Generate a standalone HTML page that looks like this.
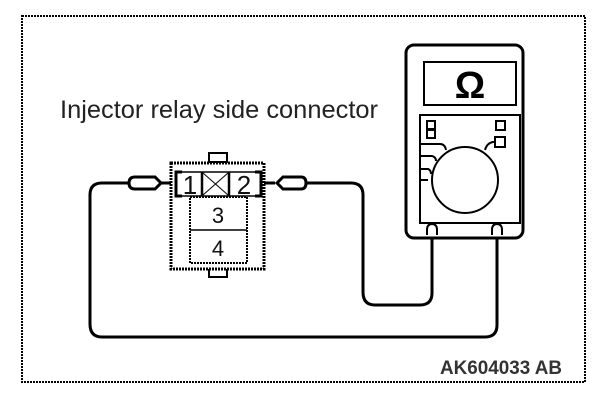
<!DOCTYPE html>
<html><head><style>
html,body{margin:0;padding:0;background:#fff;width:608px;height:402px;overflow:hidden}
</style></head><body>
<svg width="608" height="402" viewBox="0 0 608 402" xmlns="http://www.w3.org/2000/svg">
<rect x="22" y="16" width="563" height="366" fill="none" stroke="#000" stroke-width="2" stroke-dasharray="2,1"/>
<text x="60" y="118" font-family="Liberation Sans, sans-serif" font-size="25" fill="#222" textLength="318" lengthAdjust="spacingAndGlyphs">Injector relay side connector</text>
<text x="440" y="374" font-family="Liberation Sans, sans-serif" font-size="19" font-weight="bold" fill="#333" textLength="122" lengthAdjust="spacingAndGlyphs">AK604033 AB</text>
<g fill="none" stroke="#000" stroke-width="3">
<path d="M130 183 H102 Q90 183 90 195 V324 Q90 337 102 337 H485 Q497 337 497 325 V233"/>
<path d="M303 183 H351 Q363 183 363 195 V292 Q363 305 375 305 H420 Q432 305 432 293 V233"/>
<line x1="160" y1="183" x2="176" y2="183"/>
<line x1="261" y1="183" x2="275" y2="183"/>
</g>
<path d="M135 177 H155 L161 183 L155 189 H135 Q129 189 129 183 Q129 177 135 177Z" fill="#fff" stroke="#000" stroke-width="3"/>
<path d="M283 177 H301 Q306 177 306 183 Q306 189 301 189 H283 L277 183Z" fill="#fff" stroke="#000" stroke-width="3"/>
<rect x="209" y="153" width="18" height="9" fill="#fff" stroke="#000" stroke-width="2"/>
<rect x="209" y="268" width="18" height="9" fill="#fff" stroke="#000" stroke-width="2"/>
<rect x="171" y="163" width="93" height="106" fill="#fff" stroke="#000" stroke-width="3" stroke-dasharray="2,1"/>
<rect x="190" y="197" width="57" height="66" fill="#fff" stroke="#000" stroke-width="2" stroke-dasharray="2,1"/>
<line x1="190" y1="230" x2="247" y2="230" stroke="#000" stroke-width="1.5"/>
<path d="M182 172 H176 V196 H182 M255 172 H261 V196 H255" fill="none" stroke="#000" stroke-width="3"/>
<line x1="176" y1="172" x2="261" y2="172" stroke="#000" stroke-width="1.5"/>
<line x1="176" y1="196" x2="261" y2="196" stroke="#000" stroke-width="1.5"/>
<line x1="202" y1="172" x2="202" y2="196" stroke="#000" stroke-width="2.5"/>
<line x1="229" y1="172" x2="229" y2="196" stroke="#000" stroke-width="2.5"/>
<line x1="203" y1="173" x2="228" y2="195" stroke="#000" stroke-width="1"/>
<line x1="228" y1="173" x2="203" y2="195" stroke="#000" stroke-width="1"/>
<g font-family="Liberation Sans, sans-serif" fill="#111" text-anchor="middle">
<text x="190" y="194" font-size="26">1</text><text x="244" y="194" font-size="26">2</text>
<text x="218" y="223" font-size="22">3</text><text x="218" y="256" font-size="22">4</text>
</g>
<rect x="406" y="45" width="117" height="193" rx="8" fill="#fff" stroke="#000" stroke-width="3"/>
<rect x="424" y="62" width="92" height="43" fill="#fff" stroke="#000" stroke-width="2"/>
<text x="470" y="98" font-family="Liberation Sans, sans-serif" font-size="38" font-weight="bold" text-anchor="middle">Ω</text>
<rect x="420" y="115" width="100" height="108" fill="#fff" stroke="#000" stroke-width="2"/>
<rect x="427" y="121" width="8" height="8" fill="none" stroke="#000" stroke-width="2"/>
<rect x="427" y="130" width="8" height="8" fill="none" stroke="#000" stroke-width="2"/>
<rect x="496" y="121" width="9" height="9" fill="none" stroke="#000" stroke-width="2"/>
<rect x="495" y="137" width="10" height="10" fill="none" stroke="#000" stroke-width="2"/>
<circle cx="465" cy="180" r="33" fill="#fff" stroke="#000" stroke-width="2"/>
<path d="M420 144 H440 Q445 144 446 150 M420 156 H432 Q436 157 436 161 M420 169 H428 Q431 170 431 174 M420 180 H428 M485 150 Q487 143 493 142 H496" fill="none" stroke="#000" stroke-width="2"/>
<path d="M427 235 V230 Q427 224 432 224 Q437 224 437 230 V235" fill="none" stroke="#000" stroke-width="2"/>
<path d="M492 235 V230 Q492 224 497 224 Q502 224 502 230 V235" fill="none" stroke="#000" stroke-width="2"/>
</svg>
</body></html>
